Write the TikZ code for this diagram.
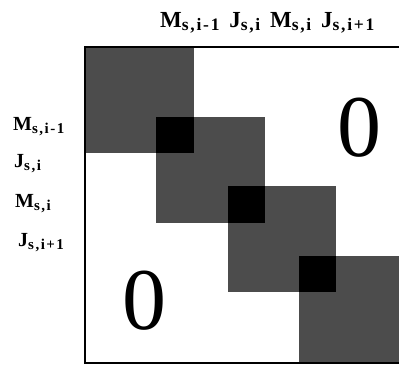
\documentclass[tikz,border=0pt]{standalone}
\usepackage{fontspec}
\setmainfont{Liberation Serif}

% bold label with a lowered, spaced-out subscript
\newcommand{\blocklab}[3]{\textbf{#1\raisebox{-0.35ex}{\fontsize{#3}{#3}\selectfont\addfontfeature{LetterSpace=10}#2}}}
\newcommand{\labgap}{\hspace{4pt}}

\tikzset{
  blockfill/.style={fill=black!70},
  overlapfill/.style={fill=black},
  labtext/.style={font=\fontsize{20}{20}\selectfont, inner sep=0pt, anchor=base west},
  toptext/.style={font=\fontsize{23}{23}\selectfont, inner sep=0pt, anchor=base west},
  zerotext/.style={font=\fontsize{88}{88}\selectfont, inner sep=0pt}
}

\begin{document}
\begin{tikzpicture}[x=1pt, y=-1pt]
    \useasboundingbox (0,0) rectangle (399,365);

    % Diagonal blocks (step 71.3 across, 69.7 down)
    \foreach \k in {0,...,3}{
        \fill[blockfill] ({85+71.3*\k},{47+69.7*\k}) rectangle ++(108.5,106);
    }
    % Overlap of neighbouring blocks
    \foreach \k in {0,...,2}{
        \fill[overlapfill] ({85+71.3*(\k+1)},{47+69.7*(\k+1)}) rectangle ({85+71.3*\k+108.5},{47+69.7*\k+106});
    }

    % Outer frame (right side runs off the picture)
    \draw[line width=1.6pt] (403,47) -- (85,47) -- (85,363) -- (403,363);

    % Column labels
    \node[toptext] (collab) at (160,27)
        {\blocklab{M}{s,i-1}{17.5} \labgap\blocklab{J}{s,i}{17.5} \labgap\blocklab{M}{s,i}{17.5} \labgap\blocklab{J}{s,i+1}{17.5}};

    % Row labels
    \node[labtext] (rowMa) at (13,130) {\blocklab{M}{s,i-1}{15}};
    \node[labtext] (rowJa) at (14,167) {\blocklab{J}{s,i}{15}};
    \node[labtext] (rowMb) at (15,207) {\blocklab{M}{s,i}{15}};
    \node[labtext] (rowJb) at (18,246) {\blocklab{J}{s,i+1}{15}};

    % Zero regions
    \node[zerotext] (zeroup) at (359,128) {0};
    \node[zerotext] (zerolow) at (144,301) {0};
\end{tikzpicture}
\end{document}
